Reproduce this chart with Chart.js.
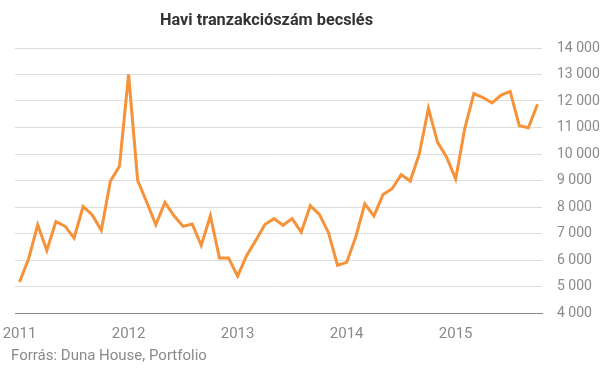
<!DOCTYPE html>
<html>
<head>
<meta charset="utf-8">
<script src="https://cdn.jsdelivr.net/npm/chart.js@4"></script>
<style>
html,body{margin:0;padding:0;background:#fff;}
#wrap{width:605px;height:379px;position:relative;}
</style>
</head>
<body>
<div id="wrap"><canvas id="c" width="605" height="379"></canvas></div>
<script>
const titleText = "Havi tranzakciószám becslés";
const sourceText = "Forrás: Duna House, Portfolio";
const years = ["2011","2012","2013","2014","2015"];
const months = [];
for (const y of years) for (let m = 1; m <= 12; m++) months.push(y + "-" + String(m).padStart(2,"0"));
const categories = months.slice(0, 58);
const transactions = [
  5170, 6050, 7330, 6360, 7450, 7280, 6830, 8020, 7700, 7120, 8980, 9540,
  13000, 9000, 8180, 7330, 8170, 7670, 7270, 7360, 6550, 7670, 6080, 6080,
  5390, 6170, 6740, 7340, 7560, 7310, 7560, 7050, 8050, 7720, 7030, 5800,
  5910, 6870, 8120, 7660, 8470, 8690, 9220, 8980, 10010, 11720, 10450, 9880,
  9060, 10960, 12280, 12130, 11930, 12220, 12360, 11070, 10990, 11880
];
const yTicks = [4000,5000,6000,7000,8000,9000,10000,11000,12000,13000,14000];

const overlayText = {
  id: 'overlayText',
  afterDraw(chart) {
    const ctx = chart.ctx;
    ctx.save();
    ctx.fillStyle = '#333333';
    ctx.font = 'bold 16.3px Roboto';
    ctx.textAlign = 'center';
    ctx.textBaseline = 'alphabetic';
    ctx.fillText(titleText, 266.5, 25);
    ctx.fillStyle = '#8a8a8a';
    ctx.font = '15px Roboto';
    ctx.textAlign = 'left';
    ctx.fillText(sourceText, 11, 360);
    ctx.restore();
  }
};

new Chart(document.getElementById('c'), {
  type: 'line',
  data: {
    labels: categories,
    datasets: [{
      data: transactions,
      borderColor: '#f5923a',
      borderWidth: 3,
      pointRadius: 0,
      tension: 0,
      fill: false
    }]
  },
  options: {
    responsive: false,
    animation: false,
    devicePixelRatio: 1,
    layout: { padding: { left: 15, right: 0, top: 48, bottom: 24 } },
    plugins: { legend: { display: false }, tooltip: { enabled: false } },
    scales: {
      x: {
        type: 'category',
        offset: true,
        grid: { display: false, drawTicks: false },
        border: { display: true, color: '#8c8c8c', width: 1 },
        afterFit: (s) => { s.paddingLeft = 0; s.paddingRight = 0; },
        ticks: {
          autoSkip: false,
          maxRotation: 0,
          padding: 12,
          color: '#8a8a8a',
          font: { family: 'Roboto', size: 15 },
          callback: function(v, i) { const l = categories[i]; return l.endsWith('-01') ? l.slice(0,4) : ''; }
        }
      },
      y: {
        position: 'right',
        min: 4000, max: 14000,
        afterBuildTicks: (s) => { s.ticks = yTicks.map(v => ({ value: v })); },
        afterFit: (s) => { s.width = 63; },
        grid: { color: '#dddddd', lineWidth: 1, drawTicks: false },
        border: { display: false },
        ticks: {
          padding: 15,
          color: '#8a8a8a',
          font: { family: 'Roboto', size: 14 },
          callback: (v) => { const s = String(v); return s.length > 3 ? s.slice(0, s.length-3) + ' ' + s.slice(-3) : s; }
        }
      }
    }
  },
  plugins: [overlayText]
});
</script>
</body>
</html>
